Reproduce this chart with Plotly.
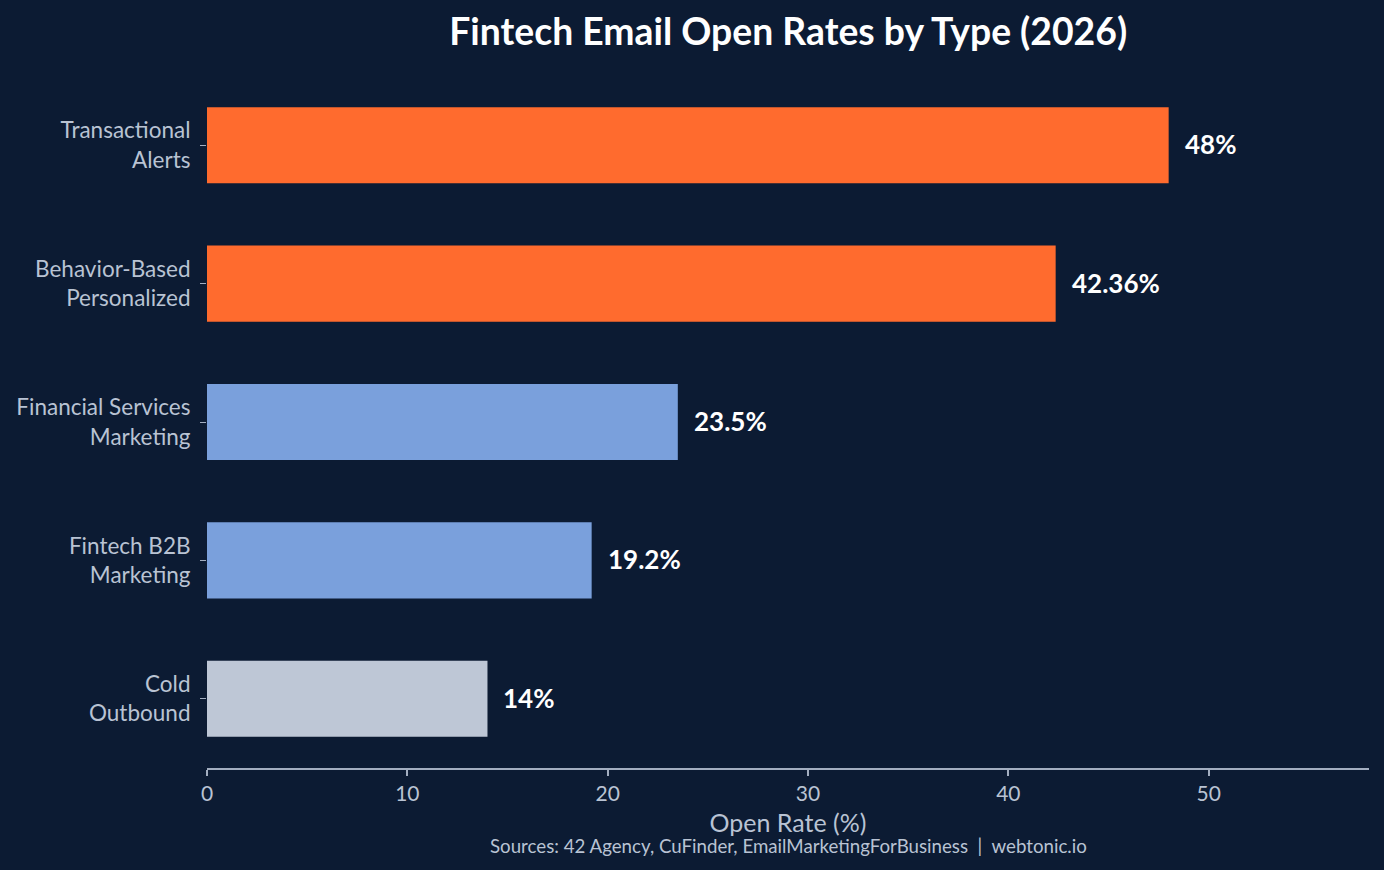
import plotly.graph_objects as go

categories = ["Transactional<br>Alerts", "Behavior-Based<br>Personalized",
              "Financial Services<br>Marketing", "Fintech B2B<br>Marketing", "Cold<br>Outbound"]
values = [48, 42.36, 23.5, 19.2, 14]
labels = ["48%", "42.36%", "23.5%", "19.2%", "14%"]
colors = ["#FF6B2E", "#FF6B2E", "#7AA0DC", "#7AA0DC", "#BEC7D6"]

BG = "#0C1B33"
TXT = "#B9C3D3"
FONT = "Lato, 'Open Sans', sans-serif"

fig = go.Figure(go.Bar(
    x=values, y=categories, orientation="h",
    marker=dict(color=colors, line=dict(width=0)),
    width=0.55, hoverinfo="skip",
))

for v, c, l in zip(values, categories, labels):
    fig.add_annotation(x=v, y=c, text=f"<b>{l}</b>", showarrow=False,
                       xanchor="left", xshift=14, yshift=1,
                       font=dict(family=FONT, size=26, color="#FFFFFF"))

fig.add_annotation(xref="paper", yref="paper", x=0.5, y=-0.094, yanchor="top",
                   text="Sources: 42 Agency, CuFinder, EmailMarketingForBusiness  |  webtonic.io",
                   showarrow=False, font=dict(family=FONT, size=18.7, color=TXT))

fig.update_layout(
    width=1384, height=870,
    paper_bgcolor=BG, plot_bgcolor=BG,
    margin=dict(l=207, r=15, t=76, b=102),
    title=dict(text="<b>Fintech Email Open Rates by Type (2026)</b>", x=0.5695, xanchor="center",
               y=0.963, yanchor="middle", font=dict(family=FONT, size=37.3, color="#FFFFFF")),
    font=dict(family=FONT, color=TXT),
    showlegend=False,
    bargap=0.45,
)
fig.update_xaxes(range=[0, 58], showgrid=False, zeroline=False, showline=True,
                 linecolor="#A3AEC0", linewidth=2, ticks="outside", ticklen=6,
                 tickcolor="#A3AEC0", tickwidth=2, dtick=10,
                 tickfont=dict(family=FONT, size=21, color=TXT),
                 title=dict(text="Open Rate (%)", font=dict(family=FONT, size=25, color=TXT), standoff=10))
fig.update_yaxes(autorange="reversed", showgrid=False, zeroline=False, showline=False,
                 ticks="outside", ticklen=6, tickcolor="#A3AEC0", tickwidth=1,
                 ticklabelstandoff=5,
                 tickfont=dict(family=FONT, size=22.5, color=TXT))

fig.write_html("out.html")
